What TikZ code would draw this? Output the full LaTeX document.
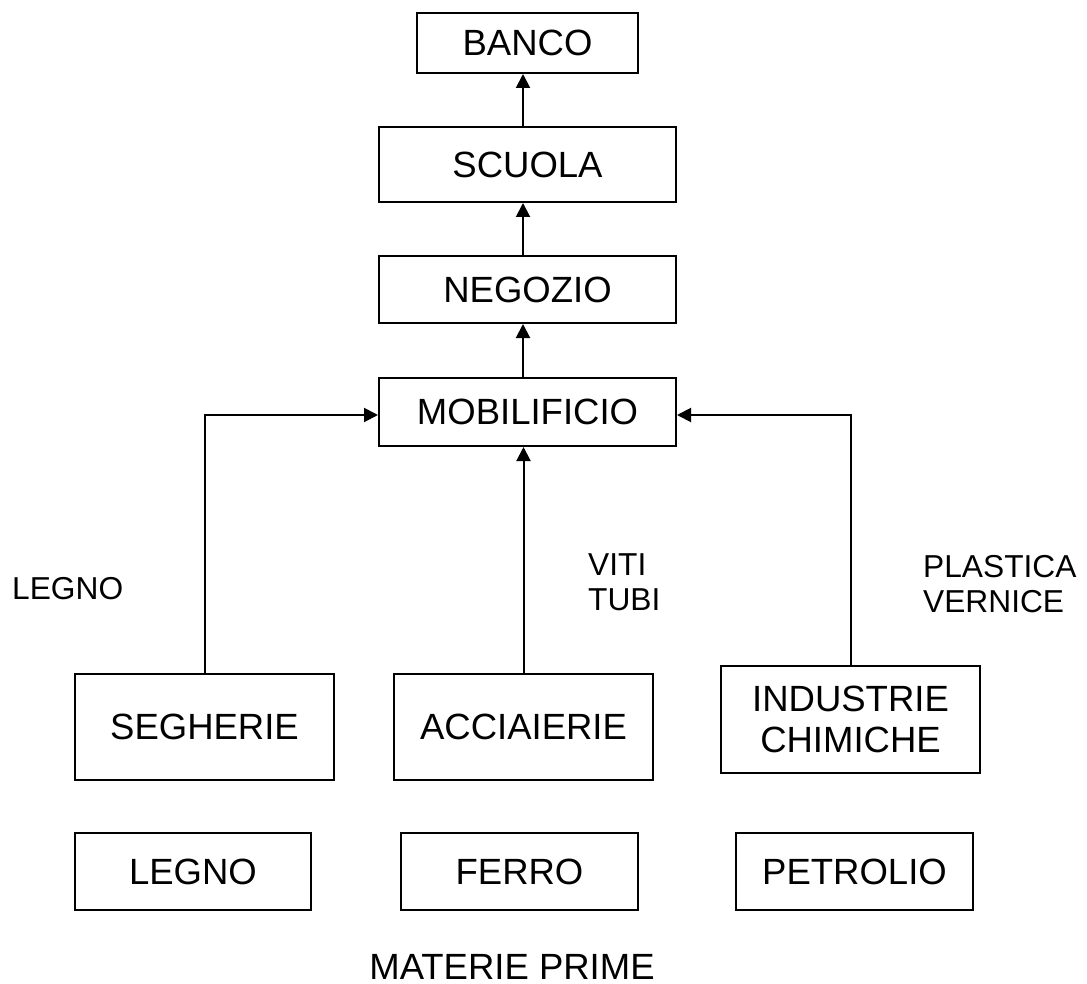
\documentclass[tikz,border=0pt]{standalone}
\usepackage{fontspec}
\setmainfont{Liberation Sans}
\usetikzlibrary{arrows.meta}
\begin{document}
\begin{tikzpicture}[x=1pt,y=-1pt,
  box/.style={draw, line width=2pt, inner sep=0pt, align=center,
    font=\fontsize{36.5pt}{41pt}\selectfont},
  lbl/.style={inner sep=0pt, align=left, font=\fontsize{31.7pt}{35pt}\selectfont},
  arr/.style={line width=2pt, -{Triangle[length=14pt,width=14pt]}}]
\useasboundingbox (0,0) rectangle (1087,984);
% top chain
\node[box, minimum width=221pt, minimum height=60pt] (banco) at (527.5,43) {BANCO};
\node[box, minimum width=297pt, minimum height=75pt] (scuola) at (527.5,164.5) {SCUOLA};
\node[box, minimum width=297pt, minimum height=67pt] (negozio) at (527.5,289.5) {NEGOZIO};
\node[box, minimum width=297pt, minimum height=68pt] (mob) at (527.5,412) {MOBILIFICIO};
% industries
\node[box, minimum width=259pt, minimum height=106pt] (seg) at (204.5,727) {SEGHERIE};
\node[box, minimum width=259pt, minimum height=106pt] (acc) at (523.5,727) {ACCIAIERIE};
\node[box, minimum width=259pt, minimum height=107pt] (ind) at (850.5,719.5) {INDUSTRIE\\CHIMICHE};
% raw materials
\node[box, minimum width=236pt, minimum height=77pt] (legno) at (193,871.5) {LEGNO};
\node[box, minimum width=237pt, minimum height=77pt] (ferro) at (519.5,871.5) {FERRO};
\node[box, minimum width=237pt, minimum height=77pt] (petrolio) at (854.5,871.5) {PETROLIO};
\node[inner sep=0pt, anchor=base, font=\fontsize{36.5pt}{41pt}\selectfont] (mp) at (512,979) {MATERIE PRIME};
% labels
\node[lbl, anchor=base west] (llegno) at (12,599) {LEGNO};
\node[lbl, anchor=north west] (lviti) at (588,553) {VITI\\TUBI};
\node[lbl, anchor=north west] (lplast) at (923,555) {PLASTICA\\VERNICE};
% arrows
\draw[arr] ([xshift=-4.5pt]scuola.north) -- ([xshift=-4.5pt]banco.south);
\draw[arr] ([xshift=-4.5pt]negozio.north) -- ([xshift=-4.5pt]scuola.south);
\draw[arr] ([xshift=-4.5pt]mob.north) -- ([xshift=-4.5pt]negozio.south);
\draw[arr] (acc.north) -- (acc.north |- mob.south);
\draw[arr] (seg.north) |- ([yshift=-3pt]mob.west);
\draw[arr] (ind.north) |- ([yshift=-3pt]mob.east);
\end{tikzpicture}
\end{document}
